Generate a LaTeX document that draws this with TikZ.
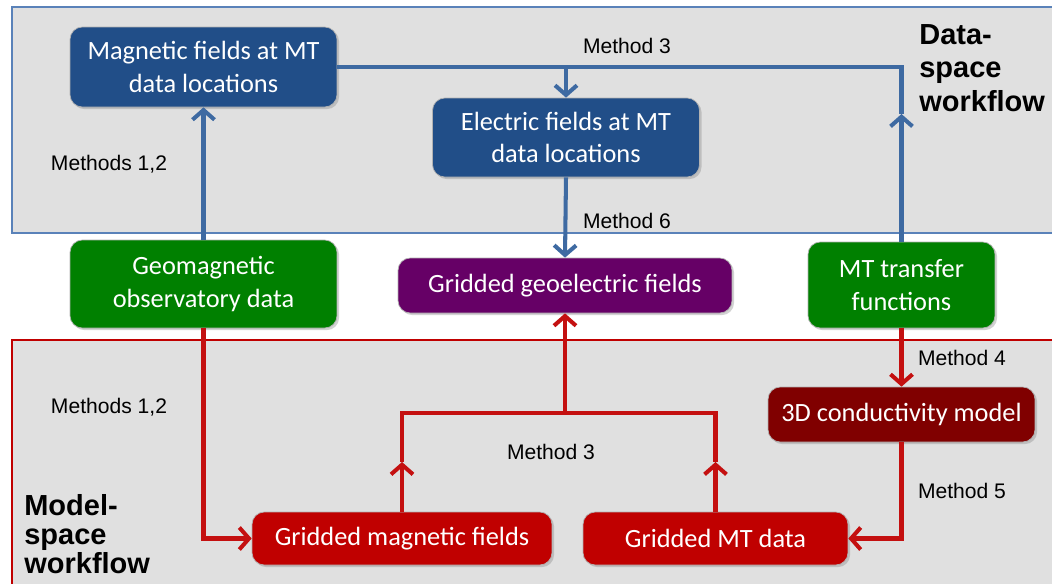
\documentclass[tikz,border=0pt]{standalone}
\usepackage{fontspec}
\setmainfont{Carlito}
\newfontfamily\labfont{Liberation Sans}
\usetikzlibrary{positioning,arrows.meta,shadows}

\definecolor{boxblue}{RGB}{33,78,136}
\definecolor{lineblue}{RGB}{62,106,162}
\definecolor{frameblue}{RGB}{90,130,185}
\definecolor{boxgreen}{RGB}{0,128,0}
\definecolor{boxpurple}{RGB}{102,0,102}
\definecolor{boxred}{RGB}{192,0,0}
\definecolor{boxdarkred}{RGB}{128,0,0}
\definecolor{linered}{RGB}{196,16,16}
\definecolor{regiongray}{RGB}{224,224,224}

\begin{document}
\begin{tikzpicture}[
  x=0.02cm, y=-0.02cm,
  proc/.style={rounded corners=7pt,draw=white!70!black,line width=0.4pt,text=white,
    align=center,inner sep=2pt,font=\fontsize{15}{18.5}\selectfont,
    drop shadow={opacity=0.35,shadow xshift=1.2pt,shadow yshift=-1.2pt}},
  lab/.style={font=\labfont\fontsize{12}{14}\selectfont,inner sep=0pt},
  big/.style={font=\labfont\bfseries\fontsize{16.5}{19}\selectfont,align=left,inner sep=0pt},
  blueflow/.style={draw=lineblue,line width=2.3pt,-{Straight Barb[length=5.5pt,width=12.5pt]}},
  blueline/.style={draw=lineblue,line width=2.3pt},
  redflow/.style={draw=linered,line width=2.3pt,-{Straight Barb[length=5.5pt,width=12.5pt]}},
  redline/.style={draw=linered,line width=2.3pt}
]
  \useasboundingbox (0,0) rectangle (1052,583);
  \clip (0,0) rectangle (1052,583);
  \fill[white] (0,0) rectangle (1052,583);
  % the two workflow regions
  \draw[frameblue,fill=regiongray,line width=0.8pt] (12,7) rectangle (1070,233);
  \draw[boxred,fill=regiongray,line width=0.8pt] (12,340) rectangle (1070,600);

  \node[proc,fill=boxblue,minimum width=5.34cm,minimum height=1.6cm] (mag) at (203.5,67) {Magnetic fields at MT\\data locations};
  \node[proc,fill=boxblue,minimum width=5.34cm,minimum height=1.58cm] (ele) at (566,137.5) {Electric fields at MT\\data locations};
  \node[proc,fill=boxgreen,minimum width=5.34cm,minimum height=1.76cm] (geo) at (203.5,284) {Geomagnetic\\observatory data};
  \node[proc,fill=boxpurple,minimum width=6.68cm,minimum height=1.1cm] (gge) at (565,285.5) {Gridded geoelectric fields};
  \node[proc,fill=boxgreen,minimum width=3.74cm,minimum height=1.72cm] (mt) at (901.5,285) {MT transfer\\functions};
  \node[proc,fill=boxdarkred,minimum width=5.34cm,minimum height=1.1cm] (cond) at (901.5,414.5) {3D conductivity model};
  \node[proc,fill=boxred,minimum width=6.0cm,minimum height=1.06cm] (gmag) at (402,538.5) {Gridded magnetic fields};
  \node[proc,fill=boxred,minimum width=5.3cm,minimum height=1.06cm] (gmt) at (715.5,538.5) {Gridded MT data};

  \node[lab] (m3a) at (627,46) {Method 3};
  \node[lab] (m6) at (627,221) {Method 6};
  \node[lab] (m12a) at (109,164) {Methods 1,2};
  \node[lab] (m12b) at (109,407) {Methods 1,2};
  \node[lab] (m3b) at (551,452) {Method 3};
  \node[lab] (m4) at (962,358) {Method 4};
  \node[lab] (m5) at (962,491) {Method 5};
  \node[big,anchor=north west] (dsw) at (919,24) {Data-\\space\\workflow};
  \node[big,anchor=north west,font=\labfont\bfseries\fontsize{16.5}{16.5}\selectfont] (msw) at (24,494) {Model-\\space\\workflow};

  % data-space connectors
  \coordinate (topM) at (566,67);
  \coordinate (topR) at (901.5,67);
  \coordinate (midR) at (901.5,114);
  \draw[blueflow] (geo.north) -- (mag.south);
  \draw[blueline] (mag.east) -- (topR) -- (midR);
  \draw[blueflow] (mt.north) -- (midR);
  \draw[blueflow] (topM) -- (ele.north);
  \draw[blueflow] (ele.south) -- (gge.north);

  % model-space connectors
  \coordinate (jL) at (402,413);
  \coordinate (jM) at (565,413);
  \coordinate (jR) at (715.5,413);
  \coordinate (aL) at (402,462);
  \coordinate (aR) at (715.5,462);
  \draw[redflow] (geo.south) |- (gmag.west);
  \draw[redflow] (gmag.north) -- (aL);
  \draw[redflow] (gmt.north) -- (aR);
  \draw[redline] (aL) -- (jL) -- (jR) -- (aR);
  \draw[redflow] (jM) -- (gge.south);
  \draw[redflow] (mt.south) -- (cond.north);
  \draw[redflow] (cond.south) |- (gmt.east);
\end{tikzpicture}
\end{document}
